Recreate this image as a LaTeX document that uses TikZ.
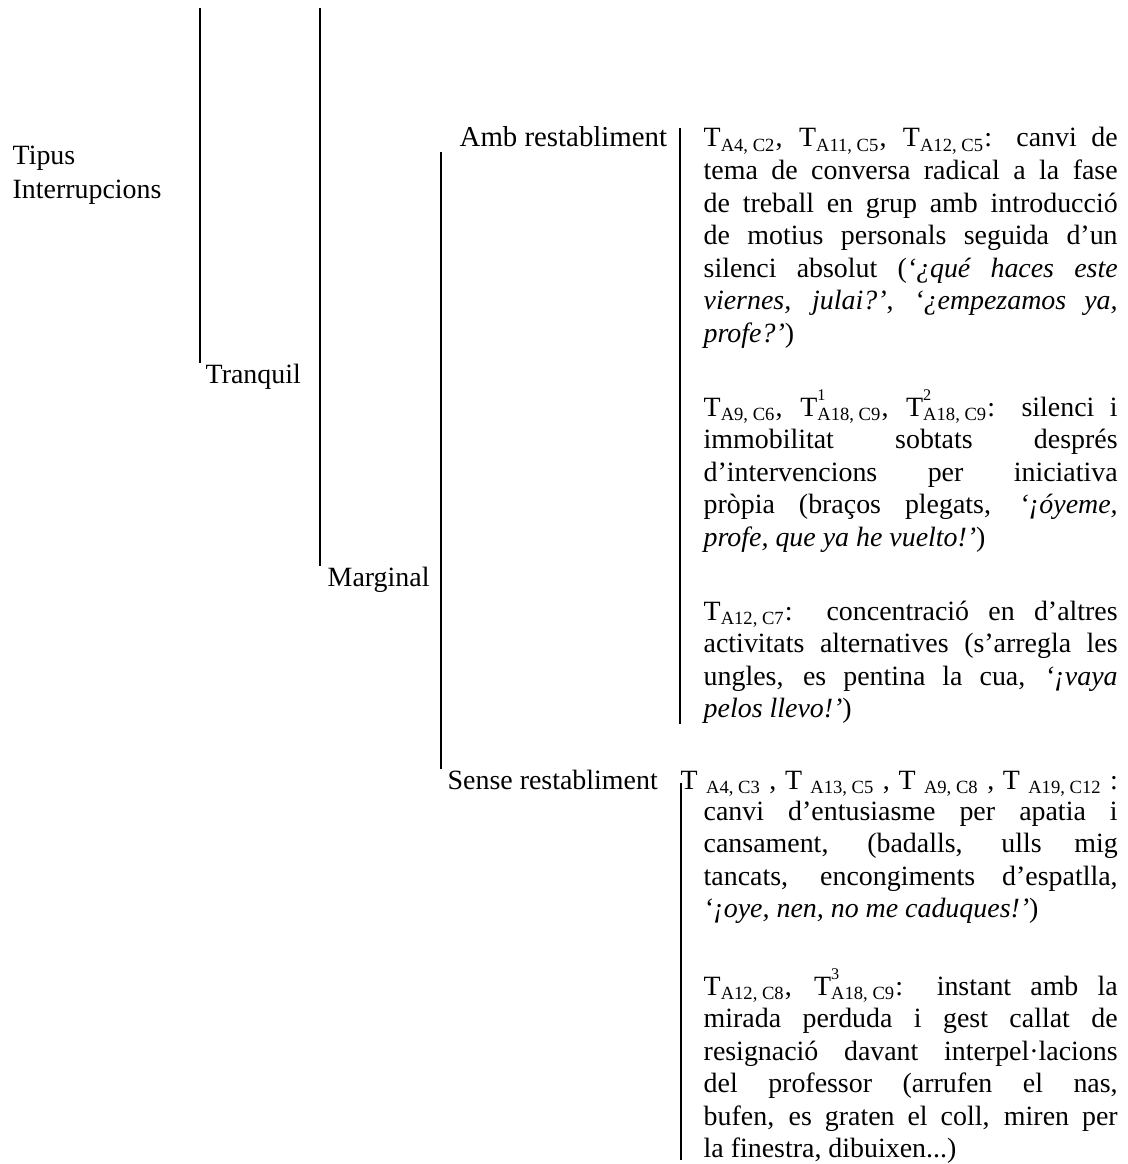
\documentclass[tikz,border=0pt]{standalone}
\usepackage{fontspec}
\setmainfont{Liberation Serif}
\usetikzlibrary{positioning}

\newcommand{\tsb}[1]{T\textsubscript{#1}}
\newcommand{\tsp}[2]{T\rlap{\raisebox{1.2ex}{\scriptsize #1}}\textsubscript{#2}}

\tikzset{
  lbl/.style={anchor=base west, inner sep=0pt, font=\fontsize{12}{14.6}\selectfont},
  txt/.style={lbl, text width=178pt, align=justify, font=\fontsize{12}{14}\selectfont},
}

\begin{document}
\begin{tikzpicture}[x=0.43pt, y=-0.43pt, line width=0.6pt]
\useasboundingbox (0,0) rectangle (1127,1164);

% first levels
\node[lbl] (tipus) at (12,165) {Tipus};
\node[lbl] (interr) at (12,199) {Interrupcions};
\node[lbl] (tranquil) at (205,383) {Tranquil};
\node[lbl] (marginal) at (327,586) {Marginal};
\coordinate (top1) at (200,8);
\coordinate (top2) at (320,8);
\draw (top1) -- (top1 |- tranquil.north);
\draw (top2) -- (top2 |- marginal.north);

% restabliment
\node[lbl, font=\fontsize{12.4}{14.6}\selectfont] (amb) at (459,147) {Amb restabliment};
\node[lbl] (sense) at (447,789) {Sense restabliment};
\coordinate (top3) at (441,152);
\draw (top3) -- (top3 |- sense.north);

% amb restabliment
\node[txt] (blk1) at (703,147) {\tsb{A4, C2}, \tsb{A11, C5}, \tsb{A12, C5}: canvi de\linebreak
  tema de conversa radical a la fase\linebreak
  de treball en grup amb introducció\linebreak
  de motius personals seguida d’un\linebreak
  silenci absolut (\textit{‘¿qué haces este\linebreak
  viernes, julai?’}, \textit{‘¿empezamos ya,\linebreak
  profe?’})};
\node[txt] (blk2) at (703,416) {\tsb{A9, C6}, \tsp{1}{A18, C9}, \tsp{2}{A18, C9}: silenci i\linebreak
  immobilitat sobtats després\linebreak
  d’intervencions per iniciativa\linebreak
  pròpia (braços plegats, \textit{‘¡óyeme,\linebreak
  profe, que ya he vuelto!’})};
\node[txt] (blk3) at (703,620) {\tsb{A12, C7}: concentració en d’altres\linebreak
  activitats alternatives (s’arregla les\linebreak
  ungles, es pentina la cua, \textit{‘¡vaya\linebreak
  pelos llevo!’})};
\coordinate (top4) at (680,128);
\draw (top4) -- (top4 |- blk3.south);

% sense restabliment
\node[txt, text width=188pt] (head) at (680,789) {\makebox[\linewidth][s]{T \textsubscript{A4, C3} , T \textsubscript{A13, C5} , T \textsubscript{A9, C8} , T \textsubscript{A19, C12} :}};
\node[txt] (blk4) at (703,820) {canvi d’entusiasme per apatia i\linebreak
  cansament, (badalls, ulls mig\linebreak
  tancats, encongiments d’espatlla,\linebreak
  \textit{‘¡oye, nen, no me caduques!’})};
\node[txt] (blk5) at (703,995) {\tsb{A12, C8}, \tsp{3}{A18, C9}: instant amb la\linebreak
  mirada perduda i gest callat de\linebreak
  resignació davant interpel·lacions\linebreak
  del professor (arrufen el nas,\linebreak
  bufen, es graten el coll, miren per\linebreak
  la finestra, dibuixen...)};
\coordinate (top5) at (681,783);
\coordinate (end5) at (681,1160);
\draw (top5) -- (end5);
\end{tikzpicture}
\end{document}
